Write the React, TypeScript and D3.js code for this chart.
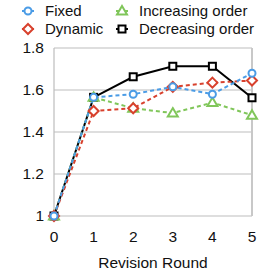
import * as d3 from "d3";

const rounds = [0, 1, 2, 3, 4, 5];
const fixed = [1.0, 1.565, 1.58, 1.615, 1.58, 1.68];
const dynamic = [1.0, 1.5, 1.513, 1.615, 1.635, 1.645];
const increasing = [1.0, 1.565, 1.513, 1.49, 1.54, 1.48];
const decreasing = [1.0, 1.565, 1.663, 1.713, 1.713, 1.563];
const yTicks = [1, 1.2, 1.4, 1.6, 1.8];

const font = "Liberation Sans, Arial, sans-serif";

type Marker = "circle" | "diamond" | "triangle" | "square";

const series: { name: string; values: number[]; color: string; dash: string; marker: Marker }[] = [
  { name: "Decreasing order", values: decreasing, color: "#000000", dash: "none", marker: "square" },
  { name: "Increasing order", values: increasing, color: "#80c65a", dash: "4 3", marker: "triangle" },
  { name: "Dynamic", values: dynamic, color: "#d8412d", dash: "4 3", marker: "diamond" },
  { name: "Fixed", values: fixed, color: "#4b9ce6", dash: "4 3", marker: "circle" },
];

function MarkerShape({ kind, x, y, color }: { kind: Marker; x: number; y: number; color: string }) {
  const common = { fill: "#fff", stroke: color, strokeWidth: 2 };
  if (kind === "circle") return <circle cx={x} cy={y} r={3.5} {...common} />;
  if (kind === "square") return <rect x={x - 3.5} y={y - 3.5} width={7} height={7} {...common} />;
  if (kind === "diamond")
    return <path d={`M${x},${y - 5}L${x + 5},${y}L${x},${y + 5}L${x - 5},${y}Z`} {...common} />;
  return <path d={`M${x},${y - 5}L${x + 5},${y + 3.5}L${x - 5},${y + 3.5}Z`} {...common} />;
}

export default function App() {
  const width = 264;
  const height = 275;
  const left = 54;
  const right = 252;
  const top = 48;
  const bottom = 216;

  const x = d3.scaleLinear().domain([0, 5]).range([left, right]);
  const y = d3.scaleLinear().domain([1, 1.8]).range([bottom, top]);

  const lineGen = (vals: number[]) =>
    d3
      .line<number>()
      .x((_, i) => x(rounds[i]))
      .y((v) => y(v))(vals) ?? "";

  const legend = [
    { name: "Fixed", marker: "circle" as Marker, color: "#4b9ce6", lx: 28, ly: 11 },
    { name: "Dynamic", marker: "diamond" as Marker, color: "#d8412d", lx: 28, ly: 29 },
    { name: "Increasing order", marker: "triangle" as Marker, color: "#80c65a", lx: 122, ly: 11 },
    { name: "Decreasing order", marker: "square" as Marker, color: "#000000", lx: 122, ly: 29 },
  ];

  return (
    <svg
      width={width}
      height={height}
      style={{ position: "absolute", left: 0, top: 0, background: "#fff" }}
      fontFamily={font}
    >
      {yTicks.map((t) => (
        <line key={t} x1={left} x2={right} y1={y(t)} y2={y(t)} stroke="#bdbdbd" strokeWidth={1.2} />
      ))}
      <line x1={left} x2={left} y1={top} y2={bottom} stroke="#bdbdbd" strokeWidth={1.2} />
      <line x1={right} x2={right} y1={top} y2={bottom} stroke="#c8c8c8" strokeWidth={2} />

      {yTicks.map((t) => (
        <text key={t} x={left - 10} y={y(t)} dy="0.35em" textAnchor="end" fontSize={15.5} fill="#111">
          {d3.format("~g")(t)}
        </text>
      ))}
      {rounds.map((r) => (
        <text key={r} x={x(r)} y={bottom + 21} dy="0.35em" textAnchor="middle" fontSize={15.5} fill="#111">
          {r}
        </text>
      ))}
      <text x={153} y={268} textAnchor="middle" fontSize={15.5} fill="#111">
        Revision Round
      </text>

      {series.map((s) => (
        <path
          key={s.name}
          d={lineGen(s.values)}
          fill="none"
          stroke={s.color}
          strokeWidth={2}
          strokeDasharray={s.dash}
        />
      ))}
      {series.map((s) =>
        s.values.map((v, i) => (
          <MarkerShape key={s.name + i} kind={s.marker} x={x(rounds[i])} y={y(v)} color={s.color} />
        ))
      )}

      {legend.map((l) => (
        <g key={l.name}>
          <line x1={l.lx - 6} x2={l.lx + 6} y1={l.ly} y2={l.ly} stroke={l.color} strokeWidth={2} />
          <MarkerShape kind={l.marker} x={l.lx} y={l.ly} color={l.color} />
          <text x={l.lx + 17} y={l.ly} dy="0.35em" fontSize={15} fill="#111">
            {l.name}
          </text>
        </g>
      ))}
    </svg>
  );
}
